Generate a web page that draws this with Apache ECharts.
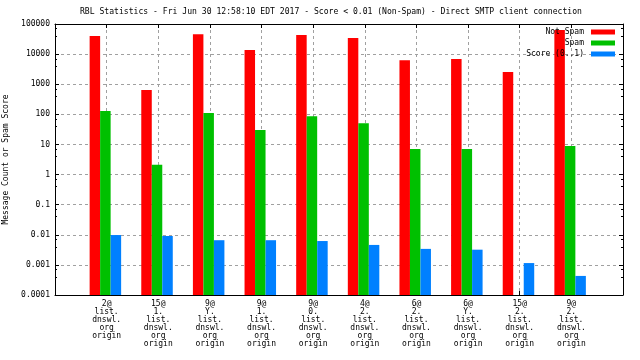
<!DOCTYPE html>
<html>
<head>
<meta charset="utf-8">
<script src="https://cdn.jsdelivr.net/npm/echarts@6/dist/echarts.min.js"></script>
<style>html,body{margin:0;padding:0;background:#fff}#c{width:640px;height:360px}</style>
</head>
<body>
<div id="c"></div>
<script>
const titleText = 'RBL Statistics - Fri Jun 30 12:58:10 EDT 2017 - Score < 0.01 (Non-Spam) - Direct SMTP client connection';
const categories = [
  '2@\nlist.\ndnswl.\norg\norigin',
  '15@\n1.\nlist.\ndnswl.\norg\norigin',
  '9@\nY.\nlist.\ndnswl.\norg\norigin',
  '9@\n1.\nlist.\ndnswl.\norg\norigin',
  '9@\n0.\nlist.\ndnswl.\norg\norigin',
  '4@\n2.\nlist.\ndnswl.\norg\norigin',
  '6@\n2.\nlist.\ndnswl.\norg\norigin',
  '6@\nY.\nlist.\ndnswl.\norg\norigin',
  '15@\n2.\nlist.\ndnswl.\norg\norigin',
  '9@\n2.\nlist.\ndnswl.\norg\norigin'
];
const notSpam = [40000, 640, 46000, 13700, 43000, 34000, 6300, 6900, 2570, 63000];
const spam = [128, 2.1, 110, 30, 87, 51, 7.1, 7.1, null, 8.9];
const score = [0.0098, 0.0091, 0.0066, 0.0066, 0.0062, 0.0046, 0.0034, 0.0032, 0.00115, 0.00043];
const yTickLabels = ['0.0001', '0.001', '0.01', '0.1', '1', '10', '100', '1000', '10000', '100000'];
const seriesNames = ['Not Spam', 'Spam', 'Score (0..1)'];
const seriesColors = ['#ff0000', '#00c000', '#0080ff'];

const FONT = 'DejaVu Sans Mono';
const cats = [''].concat(categories, ['']);
const BAR_W = 10.5;
const OFFSETS = [-11.75, -1.25, 9.25];

const chart = echarts.init(document.getElementById('c'));
const yAxisBase = {
  type: 'log', logBase: 10, min: 0.0001, max: 100000, splitNumber: 9,
  axisLine: { show: true, lineStyle: { color: '#000', width: 1 } },
  axisTick: { show: true, inside: true, length: 4, lineStyle: { color: '#000' } },
  minorTick: { show: true, splitNumber: 3, length: 2, lineStyle: { color: '#000' } },
};
const barSeries = [notSpam, spam, score].map((vals, i) => ({
  name: seriesNames[i], type: 'custom', clip: true,
  itemStyle: { color: seriesColors[i] },
  encode: { x: 0, y: 1 },
  data: vals.map((v, k) => v == null ? null : [k + 1, v]).filter(d => d),
  renderItem: (params, api) => {
    const top = api.coord([api.value(0), api.value(1)]);
    const cs = params.coordSys;
    const bottom = cs.y + cs.height;
    return {
      type: 'rect',
      shape: { x: top[0] + OFFSETS[i] - BAR_W / 2, y: top[1], width: BAR_W, height: bottom - top[1] },
      style: { fill: seriesColors[i] }
    };
  }
}));
chart.setOption({
  animation: false,
  backgroundColor: '#fff',
  title: {
    text: titleText, left: 80, top: 8, padding: 0,
    textStyle: { fontFamily: FONT, fontSize: 8.1, fontWeight: 'normal', color: '#000' }
  },
  legend: {
    data: seriesNames, orient: 'vertical', align: 'right', right: 25, top: 28,
    itemWidth: 24, itemHeight: 5, itemGap: 3, padding: 0,
    textStyle: { fontFamily: FONT, fontSize: 8, color: '#000', padding: [0, 2, 0, 0] },
    icon: 'rect'
  },
  grid: { left: 55, right: 17, top: 24, bottom: 65, containLabel: false, outerBoundsMode: 'none' },
  xAxis: [{
    type: 'category', data: cats, boundaryGap: false, position: 'bottom',
    axisLine: { show: true, onZero: false, lineStyle: { color: '#000' } },
    axisTick: { show: true, inside: true, length: 4, interval: 0, lineStyle: { color: '#000' } },
    axisLabel: { interval: 0, fontFamily: FONT, fontSize: 8, lineHeight: 8, color: '#000', margin: 5 },
    splitLine: { show: true, interval: 0, lineStyle: { color: '#a0a0a0', type: [3, 3] } }
  }, {
    type: 'category', data: cats, boundaryGap: false, position: 'top',
    axisLine: { show: true, onZero: false, lineStyle: { color: '#000' } },
    axisTick: { show: true, inside: true, length: 4, interval: 0, lineStyle: { color: '#000' } },
    axisLabel: { show: false }, splitLine: { show: false }
  }],
  yAxis: [Object.assign({}, yAxisBase, {
    position: 'left',
    name: 'Message Count or Spam Score', nameLocation: 'middle', nameRotate: 90, nameGap: 44,
    nameTextStyle: { fontFamily: FONT, fontSize: 8, color: '#000' },
    axisLabel: {
      fontFamily: FONT, fontSize: 8, color: '#000', margin: 5,
      formatter: v => yTickLabels[Math.round(Math.log10(v)) + 4]
    },
    splitLine: { show: true, lineStyle: { color: '#a0a0a0', type: [3, 3] } }
  }), Object.assign({}, yAxisBase, {
    position: 'right', axisLabel: { show: false }, splitLine: { show: false }
  })],
  series: barSeries
});
</script>
</body>
</html>
